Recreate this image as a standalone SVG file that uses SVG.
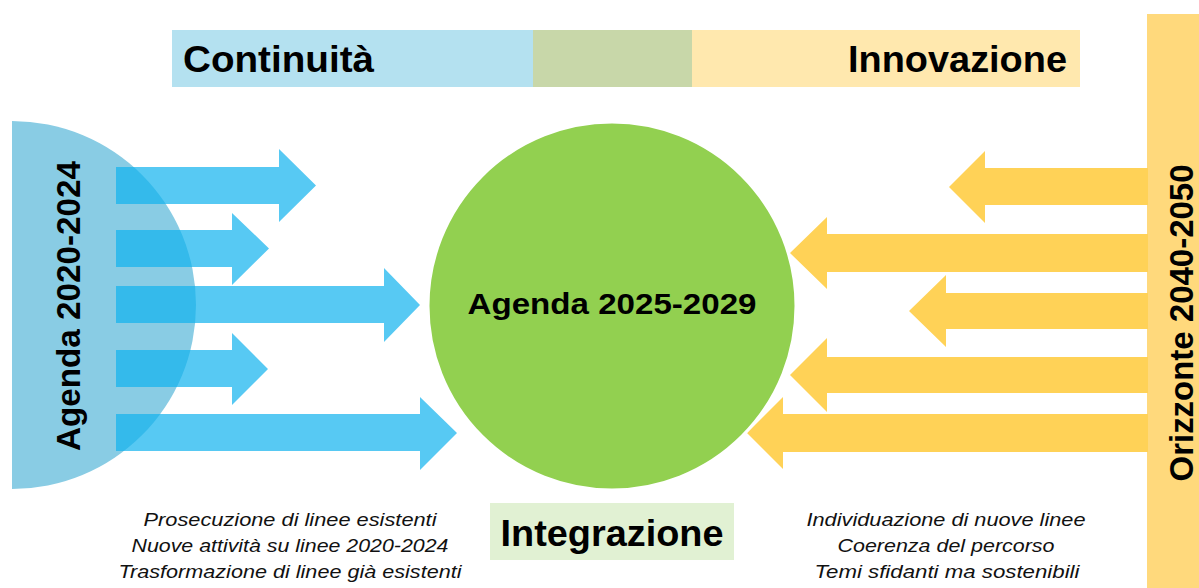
<svg xmlns="http://www.w3.org/2000/svg" width="1199" height="588" viewBox="0 0 1199 588">
<defs>
<style>
.title{font-family:"Liberation Sans",Arial,sans-serif;font-weight:bold;fill:#000}
.note{font-family:"Liberation Sans",Arial,sans-serif;font-style:italic;font-size:19px;fill:#111;text-anchor:middle}
.barrow{fill:#0FB2EE;fill-opacity:0.7}
.yarrow{fill:#FFD257}
</style>
</defs>
<rect width="1199" height="588" fill="#fff"/>
<g id="top-bar">
<rect x="172" y="30" width="362" height="57" fill="#B4E1F0"/>
<rect x="533" y="30" width="160" height="57" fill="#C8D7A9"/>
<rect x="692" y="30" width="388" height="57" fill="#FFE8AE"/>
<text class="title" x="183" y="72" font-size="36" textLength="191" lengthAdjust="spacingAndGlyphs">Continuità</text>
<text class="title" x="848" y="72" font-size="36" textLength="219" lengthAdjust="spacingAndGlyphs">Innovazione</text>
</g>
<g id="agenda-2020">
<path d="M12,121 A184,184 0 0 1 12,489 Z" fill="#89CCE4"/>
<text class="title" transform="translate(80,306) rotate(-90)" font-size="33" text-anchor="middle" textLength="290" lengthAdjust="spacingAndGlyphs">Agenda 2020-2024</text>
</g>
<g id="orizzonte">
<rect x="1147" y="14" width="52" height="574" fill="#FFD97C"/>
<text class="title" transform="translate(1193,323) rotate(-90)" font-size="33" text-anchor="middle" textLength="317" lengthAdjust="spacingAndGlyphs">Orizzonte 2040-2050</text>
</g>
<g id="connectors">
<path class="barrow" d="M116,167 H279 V149 L316,185.5 L279,222 V204 H116 Z"/>
<path class="barrow" d="M116,230 H232 V213 L269,248.5 L232,285 V267 H116 Z"/>
<path class="barrow" d="M116,286 H384 V268 L420,305 L384,342 V323 H116 Z"/>
<path class="barrow" d="M116,350 H232 V333 L268,369 L232,405 V387 H116 Z"/>
<path class="barrow" d="M116,414 H420 V397 L457,433 L420,470 V451 H116 Z"/>
<path class="yarrow" d="M1148,168 H985 V151 L949,187 L985,223 V205 H1148 Z"/>
<path class="yarrow" d="M1148,234 H827 V217 L790,253 L827,289 V272 H1148 Z"/>
<path class="yarrow" d="M1148,293 H946 V275 L909,311 L946,347 V329 H1148 Z"/>
<path class="yarrow" d="M1148,357 H827 V338 L790,375 L827,412 V393 H1148 Z"/>
<path class="yarrow" d="M1148,414 H783 V397 L747,433 L783,469 V452 H1148 Z"/>
</g>
<g id="agenda-2025">
<circle cx="612" cy="306" r="184" fill="#92D050" stroke="#fff" stroke-width="3"/>
<text class="title" x="612" y="314" font-size="30" text-anchor="middle" textLength="289" lengthAdjust="spacingAndGlyphs">Agenda 2025-2029</text>
</g>
<g id="integrazione">
<rect x="490" y="503" width="244" height="57" fill="#E1F1D3"/>
<text class="title" x="612" y="546" font-size="36" text-anchor="middle" textLength="223" lengthAdjust="spacingAndGlyphs">Integrazione</text>
</g>
<g id="notes-left">
<text class="note" x="290" y="526" textLength="293" lengthAdjust="spacingAndGlyphs">Prosecuzione di linee esistenti</text>
<text class="note" x="290" y="552" textLength="317" lengthAdjust="spacingAndGlyphs">Nuove attività su linee 2020-2024</text>
<text class="note" x="290" y="578" textLength="343" lengthAdjust="spacingAndGlyphs">Trasformazione di linee già esistenti</text>
</g>
<g id="notes-right">
<text class="note" x="946" y="526" textLength="279" lengthAdjust="spacingAndGlyphs">Individuazione di nuove linee</text>
<text class="note" x="946" y="552" textLength="217" lengthAdjust="spacingAndGlyphs">Coerenza del percorso</text>
<text class="note" x="947" y="578" textLength="265" lengthAdjust="spacingAndGlyphs">Temi sfidanti ma sostenibili</text>
</g>
</svg>
